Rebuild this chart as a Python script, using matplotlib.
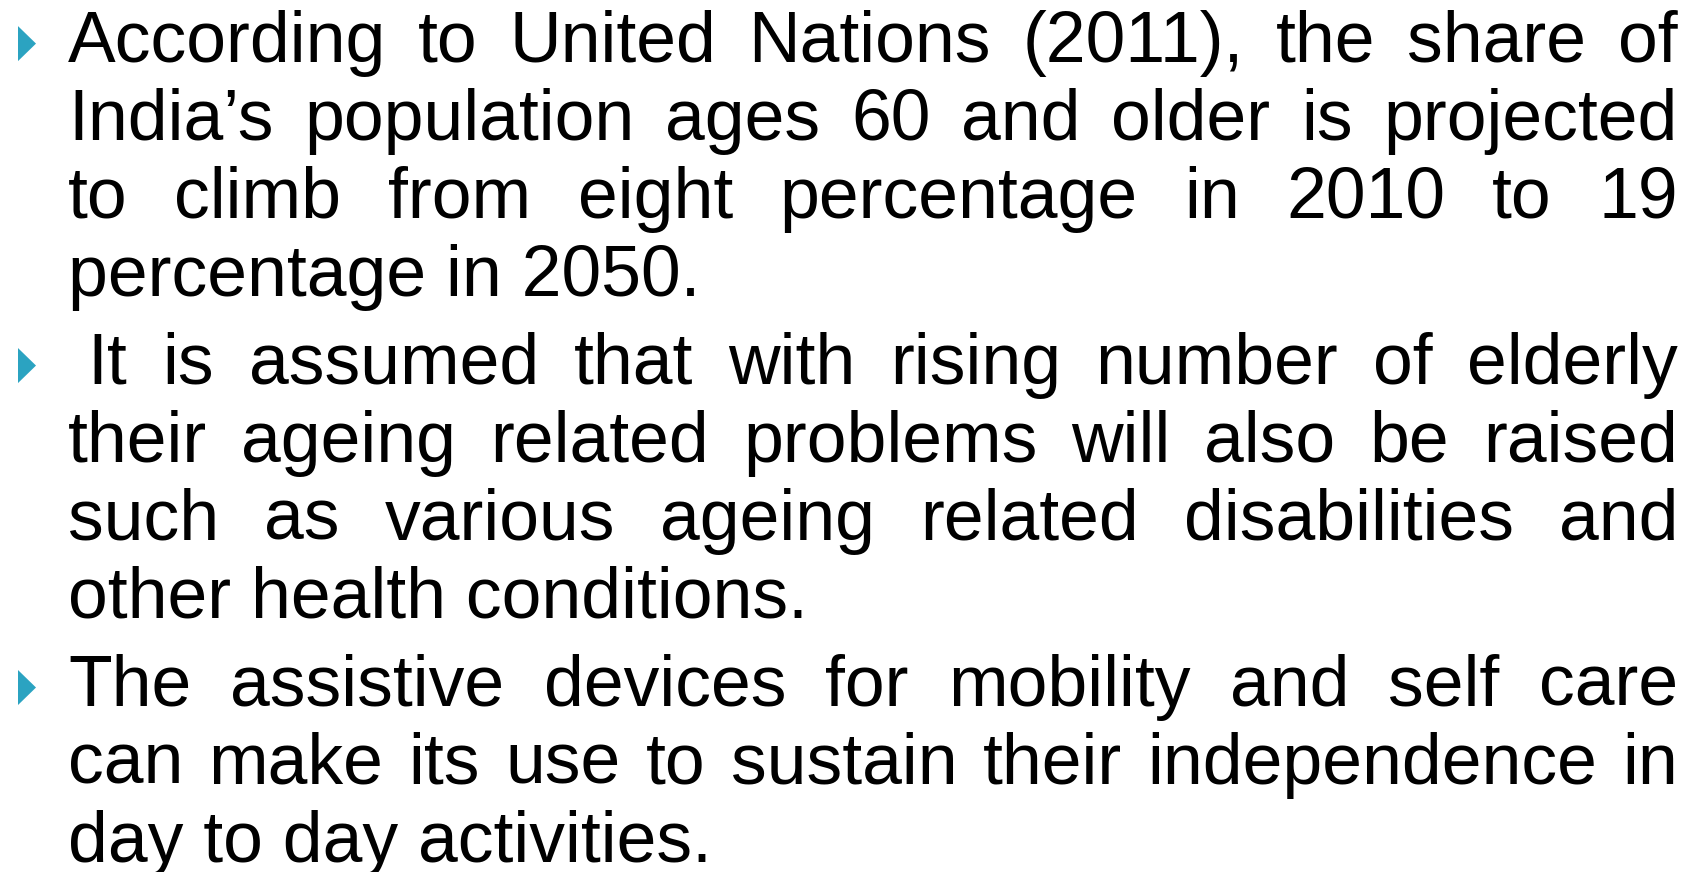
import matplotlib
matplotlib.use("Agg")
import matplotlib.pyplot as plt
from matplotlib.patches import Polygon

# slide text, one list per bullet point (as wrapped in the slide)
punto1 = ["According to United Nations (2011), the share of",
          "India’s population ages 60 and older is projected",
          "to climb from eight percentage in 2010 to 19",
          "percentage in 2050."]
punto2 = [" It is assumed that with rising number of elderly",
          "their ageing related problems will also be raised",
          "such as various ageing related disabilities and",
          "other health conditions."]
punto3 = ["The assistive devices for mobility and self care",
          "can make its use to sustain their independence in",
          "day to day activities."]
puntos = [punto1, punto2, punto3]

ANCHO, ALTO = 1702, 873
IZQ, DER = 68, 1678
PRIMERA = 62
PASO = 78
SALTO = 10
COLOR_BALA = "#2BA3C1"
FUENTE = dict(family="Liberation Sans", fontsize=51.5, color="black")

fig = plt.figure(figsize=(17.02, 8.729), dpi=100)
ax = fig.add_axes([0, 0, 1, 1])
ax.set_xlim(0, ANCHO)
ax.set_ylim(ALTO, 0)
ax.axis("off")
fig.canvas.draw()
renderer = fig.canvas.get_renderer()


def ancho(texto):
    t = ax.text(0, 0, texto, **FUENTE)
    bb = t.get_window_extent(renderer)
    t.remove()
    return bb.width


ancho_espacio = ancho("a a") - ancho("aa")

y = PRIMERA
for punto in puntos:
    # triangle bullet
    ax.add_patch(Polygon([[18, y - 35], [36, y - 17.5], [18, y]],
                         closed=True, color=COLOR_BALA, lw=0))
    for k, linea in enumerate(punto):
        ultima = k == len(punto) - 1
        if ultima:
            ax.text(IZQ, y, linea, ha="left", va="baseline", **FUENTE)
        else:
            inicio = IZQ + (ancho_espacio if linea.startswith(" ") else 0)
            palabras = linea.split()
            anchos = [ancho(p) for p in palabras]
            hueco = (DER - inicio - sum(anchos)) / (len(palabras) - 1)
            x = inicio
            for p, w in zip(palabras, anchos):
                ax.text(x, y, p, ha="left", va="baseline", **FUENTE)
                x += w + hueco
        y += PASO
    y += SALTO

fig.savefig("out.png", dpi=100, facecolor="white")
